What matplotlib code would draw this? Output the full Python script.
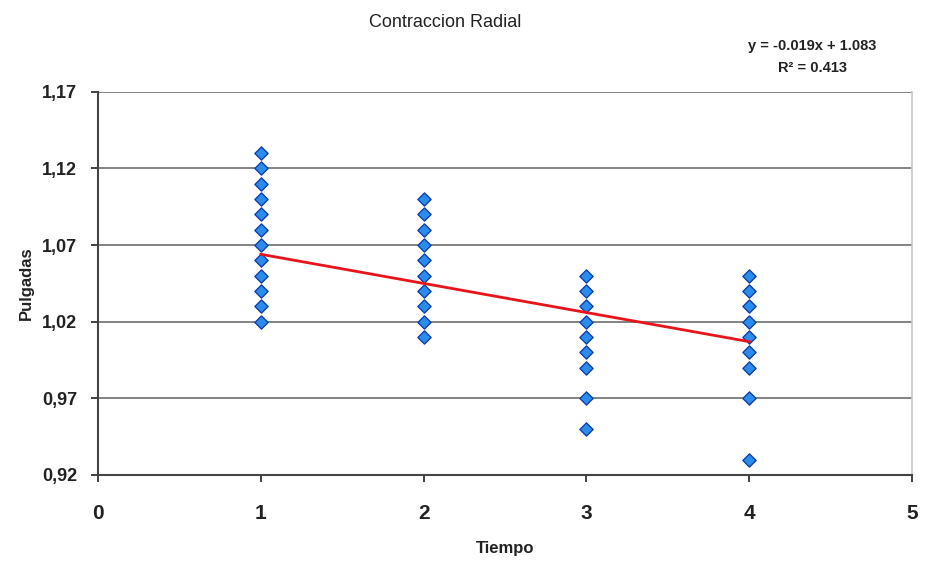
import numpy as np
import matplotlib.pyplot as plt
from matplotlib.ticker import FuncFormatter

plt.rcParams['font.family'] = ['Liberation Sans', 'DejaVu Sans']

# Data
tiempo_1 = [1] * 12
pulg_1 = [1.02, 1.03, 1.04, 1.05, 1.06, 1.07, 1.08, 1.09, 1.10, 1.11, 1.12, 1.13]
tiempo_2 = [2] * 10
pulg_2 = [1.01, 1.02, 1.03, 1.04, 1.05, 1.06, 1.07, 1.08, 1.09, 1.10]
tiempo_3 = [3] * 9
pulg_3 = [0.95, 0.97, 0.99, 1.00, 1.01, 1.02, 1.03, 1.04, 1.05]
tiempo_4 = [4] * 9
pulg_4 = [0.93, 0.97, 0.99, 1.00, 1.01, 1.02, 1.03, 1.04, 1.05]

slope = -0.019
intercept = 1.083
r2 = 0.413
trend_x = [1, 4]

x = tiempo_1 + tiempo_2 + tiempo_3 + tiempo_4
y = pulg_1 + pulg_2 + pulg_3 + pulg_4

fig = plt.figure(figsize=(9.25, 5.61), dpi=100)
ax = fig.add_axes([0.106, 0.1533, 0.880, 0.683])

yticks = [0.92, 0.97, 1.02, 1.07, 1.12, 1.17]
for yt in yticks[1:]:
    ax.axhline(yt, color='#6e6e6e', lw=1.2, zorder=1)

ax.scatter(x, y, marker='D', s=45, facecolor='#2b8cf0', edgecolor='#1040a8',
           linewidth=1.0, zorder=3)

tx = np.array(trend_x)
ax.plot(tx, slope * tx + intercept, color='#e8141c', lw=2.0, zorder=4)

ax.set_xlim(0, 5)
ax.set_ylim(0.92, 1.17)
ax.set_xticks([0, 1, 2, 3, 4, 5])
ax.set_yticks(yticks)
ax.yaxis.set_major_formatter(FuncFormatter(lambda v, p: ('%.2f' % v).replace('.', ',')))

for lbl in ax.get_xticklabels():
    lbl.set_fontsize(15)
    lbl.set_fontweight('bold')
    lbl.set_color('#222222')
for lbl in ax.get_yticklabels():
    lbl.set_fontsize(13)
    lbl.set_fontweight('bold')
    lbl.set_color('#222222')

ax.tick_params(axis='both', direction='out', length=5, width=1.2, colors='#222222')
ax.tick_params(axis='x', pad=16)
ax.tick_params(axis='y', pad=10)

ax.spines['left'].set_color('#444444')
ax.spines['left'].set_linewidth(1.5)
ax.spines['bottom'].set_color('#444444')
ax.spines['bottom'].set_linewidth(1.5)
ax.spines['top'].set_visible(False)
ax.spines['right'].set_color('#c8c8c8')
ax.spines['right'].set_linewidth(1.2)

ax.set_xlabel('Tiempo', fontsize=12, fontweight='semibold', color='#222222', labelpad=13)
ax.set_ylabel('Pulgadas', fontsize=12, fontweight='semibold', color='#222222', labelpad=6)

fig.text(0.481, 0.96, 'Contraccion Radial', fontsize=13, ha='center', va='center', color='#222222')
fig.text(0.878, 0.918, 'y = -0.019x + 1.083', fontsize=10.5, fontweight='bold',
         ha='center', va='center', color='#222222')
fig.text(0.878, 0.878, 'R\u00b2 = 0.413', fontsize=10.5, fontweight='bold',
         ha='center', va='center', color='#222222')

fig.savefig('out.png', dpi=100)
